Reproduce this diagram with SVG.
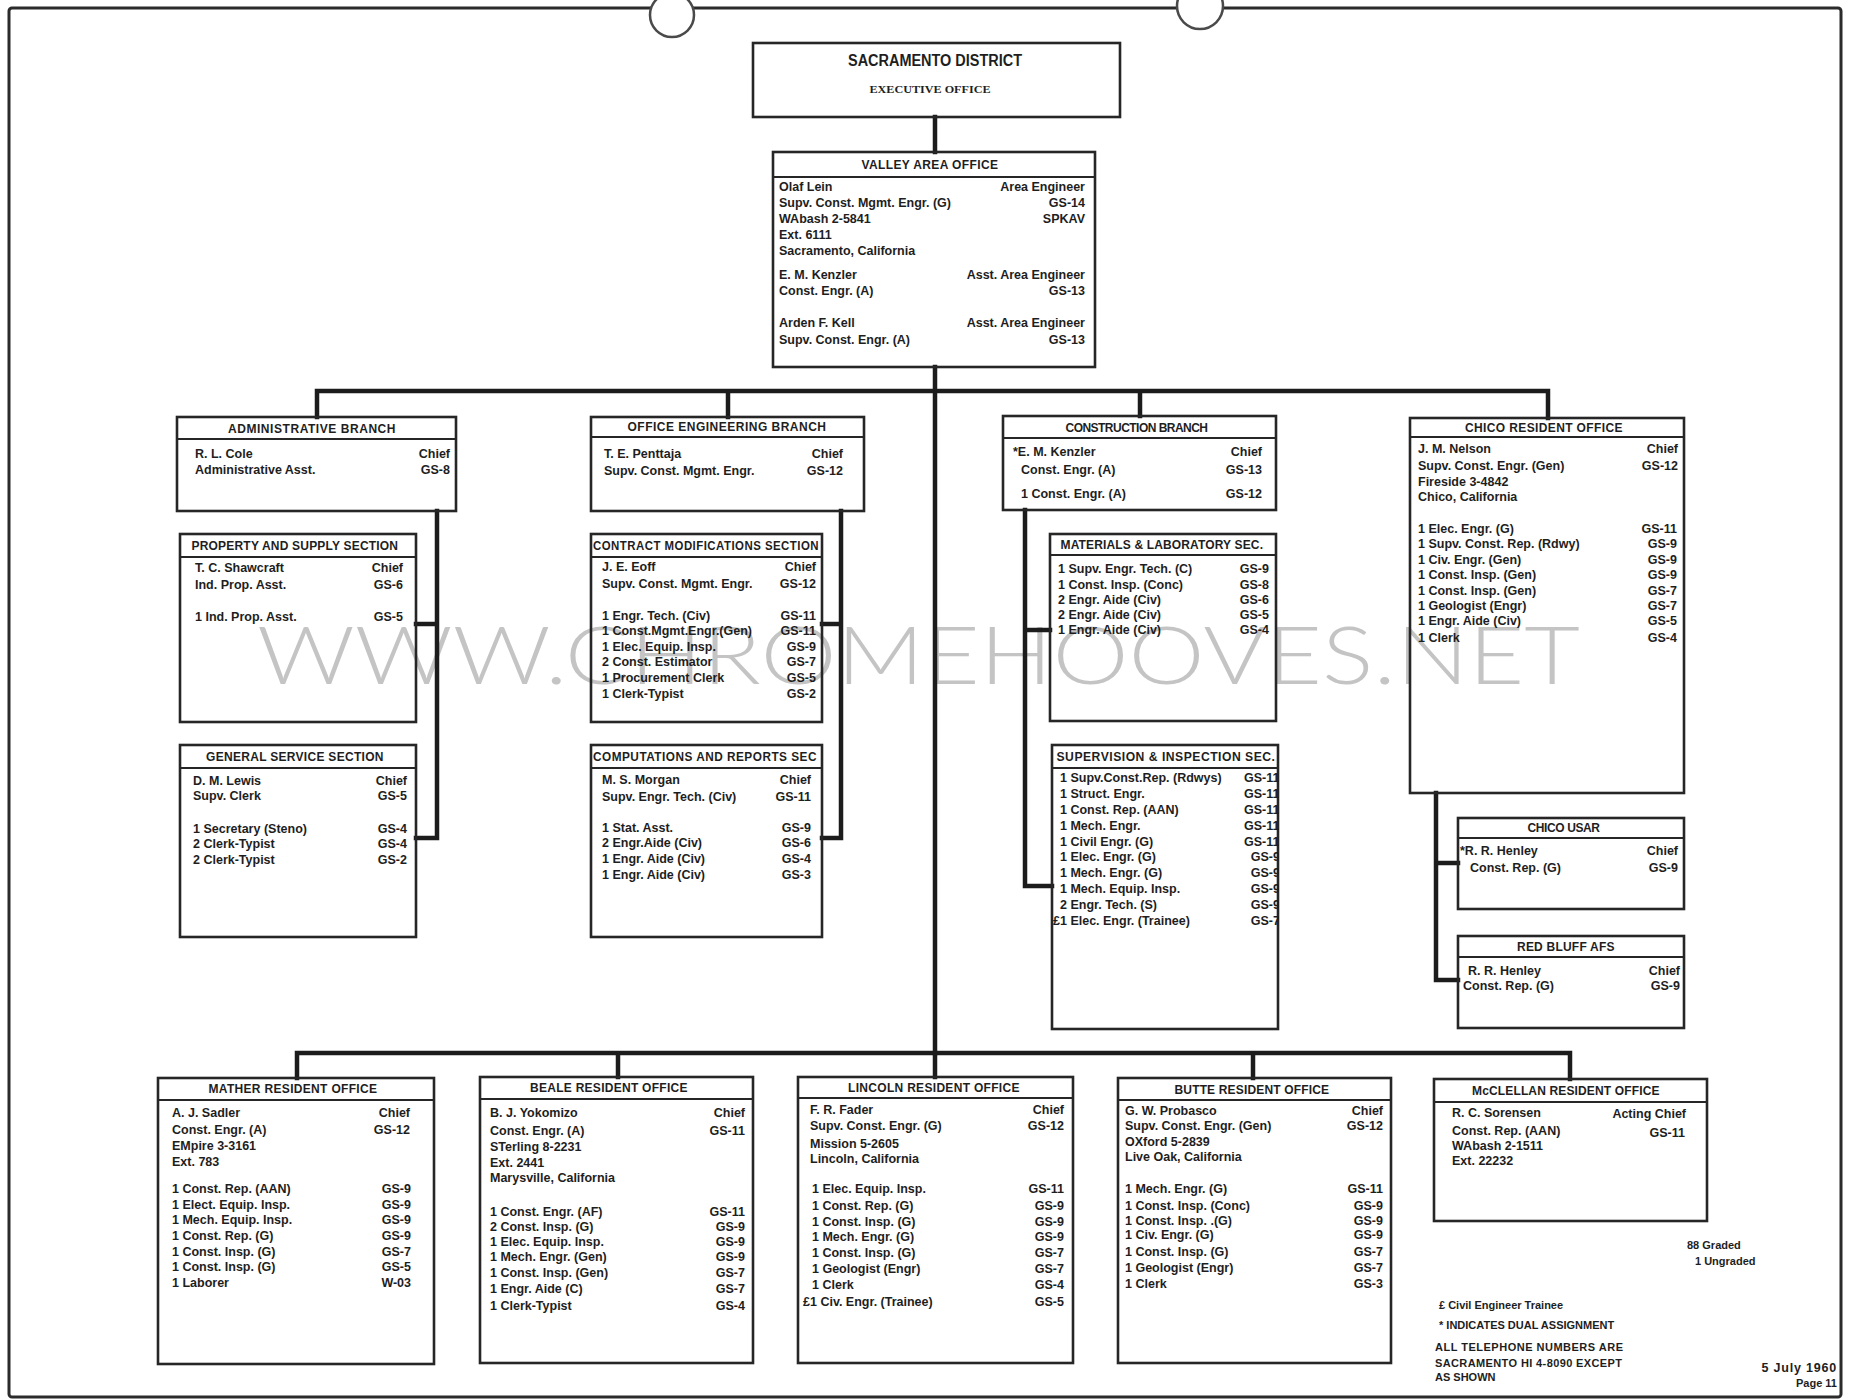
<svg xmlns="http://www.w3.org/2000/svg" width="1849" height="1400" viewBox="0 0 1849 1400">
<defs>
<clipPath id="supclip"><rect x="1052" y="745" width="227" height="284"/></clipPath>
</defs>
<style>
.frame{fill:none;stroke:#2b2b2b;stroke-width:3}
.box{fill:none;stroke:#262626;stroke-width:2.6}
.dv{stroke:#262626;stroke-width:2}
.conn{fill:none;stroke:#1c1c1c;stroke-width:4.5;stroke-linecap:square}
.hole{fill:#fff;stroke:#4a4a4a;stroke-width:2.5}
text{font-family:"Liberation Sans",Arial,sans-serif;font-weight:bold;fill:#1e1e1e;font-size:12.5px}
.h{text-anchor:middle;letter-spacing:0.5px;font-size:12px}
.r{text-anchor:end}
.n{font-size:11px}
.d{font-size:12.5px;letter-spacing:0.8px}
.wm{font-family:Lato,"Liberation Sans",sans-serif;font-weight:300;font-size:80px;fill:#c4c4c4}
</style>
<rect x="0" y="0" width="1849" height="1400" fill="#fff"/>
<text class="wm" x="257" y="684" textLength="1323" lengthAdjust="spacingAndGlyphs">WWW.CHROMEHOOVES.NET</text>
<rect class="frame" x="9" y="8" width="1832" height="1389" rx="3"/>
<circle class="hole" cx="672" cy="15" r="22"/>
<circle class="hole" cx="1200" cy="6" r="23"/>

<g id="connectors">
<path class="conn" d="M935 117 V152 M935 367 V1053"/>
<path class="conn" d="M317 391 H1548 M317 391 V417 M728 391 V417 M1140 391 V416 M1548 391 V418"/>
<path class="conn" d="M297 1053 H1570 M297 1053 V1078 M618 1053 V1077 M935 1053 V1077 M1253 1053 V1078 M1570 1053 V1079"/>
<path class="conn" d="M437 511 V838 M416 624 H437 M416 838 H437"/>
<path class="conn" d="M841 511 V838 M822 624 H841 M822 838 H841"/>
<path class="conn" d="M1025 510 V886 M1025 630 H1050 M1025 886 H1052"/>
<path class="conn" d="M1436 793 V980 M1436 863 H1458 M1436 980 H1458"/>
</g>

<g id="executive-office">
<rect class="box" x="753" y="43" width="367" height="74"/>
<text x="935" y="66" text-anchor="middle" style="font-size:16px" textLength="174" lengthAdjust="spacingAndGlyphs">SACRAMENTO DISTRICT</text>
<text x="930" y="93" text-anchor="middle" style="font-family:'Liberation Serif',serif;font-size:11px" textLength="121" lengthAdjust="spacingAndGlyphs">EXECUTIVE OFFICE</text>
</g>

<g id="valley-area-office">
<rect class="box" x="773" y="152" width="322" height="215"/>
<line class="dv" x1="773" y1="177" x2="1095" y2="177"/>
<text class="h" x="930" y="169" textLength="137">VALLEY AREA OFFICE</text>
<text x="779" y="191">Olaf Lein</text>
<text x="779" y="207">Supv. Const. Mgmt. Engr. (G)</text>
<text x="779" y="223">WAbash 2-5841</text>
<text x="779" y="239">Ext. 6111</text>
<text x="779" y="255">Sacramento, California</text>
<text x="779" y="279">E. M. Kenzler</text>
<text x="779" y="295">Const. Engr. (A)</text>
<text x="779" y="327">Arden F. Kell</text>
<text x="779" y="344">Supv. Const. Engr. (A)</text>
<text class="r" x="1085" y="191">Area Engineer</text>
<text class="r" x="1085" y="207">GS-14</text>
<text class="r" x="1085" y="223">SPKAV</text>
<text class="r" x="1085" y="279">Asst. Area Engineer</text>
<text class="r" x="1085" y="295">GS-13</text>
<text class="r" x="1085" y="327">Asst. Area Engineer</text>
<text class="r" x="1085" y="344">GS-13</text>
</g>

<g id="administrative-branch">
<rect class="box" x="177" y="417" width="279" height="94"/>
<line class="dv" x1="177" y1="439" x2="456" y2="439"/>
<text class="h" x="312" y="433" textLength="168">ADMINISTRATIVE BRANCH</text>
<text x="195" y="458">R. L. Cole</text>
<text x="195" y="474">Administrative Asst.</text>
<text class="r" x="450" y="458">Chief</text>
<text class="r" x="450" y="474">GS-8</text>
</g>

<g id="property-supply-section">
<rect class="box" x="180" y="534" width="236" height="188"/>
<line class="dv" x1="180" y1="557" x2="416" y2="557"/>
<text class="h" x="295" y="550" textLength="207">PROPERTY AND SUPPLY SECTION</text>
<text x="195" y="572">T. C. Shawcraft</text>
<text x="195" y="589">Ind. Prop. Asst.</text>
<text x="195" y="621">1 Ind. Prop. Asst.</text>
<text class="r" x="403" y="572">Chief</text>
<text class="r" x="403" y="589">GS-6</text>
<text class="r" x="403" y="621">GS-5</text>
</g>

<g id="general-service-section">
<rect class="box" x="180" y="745" width="236" height="192"/>
<line class="dv" x1="180" y1="768" x2="416" y2="768"/>
<text class="h" x="295" y="761" textLength="178">GENERAL SERVICE SECTION</text>
<text x="193" y="785">D. M. Lewis</text>
<text x="193" y="800">Supv. Clerk</text>
<text x="193" y="833">1 Secretary (Steno)</text>
<text x="193" y="848">2 Clerk-Typist</text>
<text x="193" y="864">2 Clerk-Typist</text>
<text class="r" x="407" y="785">Chief</text>
<text class="r" x="407" y="800">GS-5</text>
<text class="r" x="407" y="833">GS-4</text>
<text class="r" x="407" y="848">GS-4</text>
<text class="r" x="407" y="864">GS-2</text>
</g>

<g id="office-engineering-branch">
<rect class="box" x="591" y="417" width="273" height="94"/>
<line class="dv" x1="591" y1="437" x2="864" y2="437"/>
<text class="h" x="727" y="431" textLength="199">OFFICE ENGINEERING BRANCH</text>
<text x="604" y="458">T. E. Penttaja</text>
<text x="604" y="475">Supv. Const. Mgmt. Engr.</text>
<text class="r" x="843" y="458">Chief</text>
<text class="r" x="843" y="475">GS-12</text>
</g>

<g id="contract-modifications-section">
<rect class="box" x="591" y="534" width="231" height="188"/>
<line class="dv" x1="591" y1="557" x2="822" y2="557"/>
<text class="h" x="706" y="550" textLength="226" lengthAdjust="spacingAndGlyphs">CONTRACT MODIFICATIONS SECTION</text>
<text x="602" y="571">J. E. Eoff</text>
<text x="602" y="588">Supv. Const. Mgmt. Engr.</text>
<text x="602" y="620">1 Engr. Tech. (Civ)</text>
<text x="602" y="635">1 Const.Mgmt.Engr.(Gen)</text>
<text x="602" y="651">1 Elec. Equip. Insp.</text>
<text x="602" y="666">2 Const. Estimator</text>
<text x="602" y="682">1 Procurement Clerk</text>
<text x="602" y="698">1 Clerk-Typist</text>
<text class="r" x="816" y="571">Chief</text>
<text class="r" x="816" y="588">GS-12</text>
<text class="r" x="816" y="620">GS-11</text>
<text class="r" x="816" y="635">GS-11</text>
<text class="r" x="816" y="651">GS-9</text>
<text class="r" x="816" y="666">GS-7</text>
<text class="r" x="816" y="682">GS-5</text>
<text class="r" x="816" y="698">GS-2</text>
</g>

<g id="computations-reports-section">
<rect class="box" x="591" y="745" width="231" height="192"/>
<line class="dv" x1="591" y1="768" x2="822" y2="768"/>
<text class="h" x="705" y="761" textLength="224" lengthAdjust="spacingAndGlyphs">COMPUTATIONS AND REPORTS SEC</text>
<text x="602" y="784">M. S. Morgan</text>
<text x="602" y="801">Supv. Engr. Tech. (Civ)</text>
<text x="602" y="832">1 Stat. Asst.</text>
<text x="602" y="847">2 Engr.Aide (Civ)</text>
<text x="602" y="863">1 Engr. Aide (Civ)</text>
<text x="602" y="879">1 Engr. Aide (Civ)</text>
<text class="r" x="811" y="784">Chief</text>
<text class="r" x="811" y="801">GS-11</text>
<text class="r" x="811" y="832">GS-9</text>
<text class="r" x="811" y="847">GS-6</text>
<text class="r" x="811" y="863">GS-4</text>
<text class="r" x="811" y="879">GS-3</text>
</g>

<g id="construction-branch">
<rect class="box" x="1003" y="416" width="273" height="94"/>
<line class="dv" x1="1003" y1="438" x2="1276" y2="438"/>
<text class="h" x="1137" y="432" textLength="143">CONSTRUCTION BRANCH</text>
<text x="1013" y="456">*E. M. Kenzler</text>
<text x="1021" y="474">Const. Engr. (A)</text>
<text x="1021" y="498">1 Const. Engr. (A)</text>
<text class="r" x="1262" y="456">Chief</text>
<text class="r" x="1262" y="474">GS-13</text>
<text class="r" x="1262" y="498">GS-12</text>
</g>

<g id="materials-laboratory-section">
<rect class="box" x="1050" y="534" width="226" height="187"/>
<line class="dv" x1="1050" y1="555" x2="1276" y2="555"/>
<text class="h" x="1162" y="549" textLength="203">MATERIALS &amp; LABORATORY SEC.</text>
<text x="1058" y="573">1 Supv. Engr. Tech. (C)</text>
<text x="1058" y="589">1 Const. Insp. (Conc)</text>
<text x="1058" y="604">2 Engr. Aide (Civ)</text>
<text x="1058" y="619">2 Engr. Aide (Civ)</text>
<text x="1058" y="634">1 Engr. Aide (Civ)</text>
<text class="r" x="1269" y="573">GS-9</text>
<text class="r" x="1269" y="589">GS-8</text>
<text class="r" x="1269" y="604">GS-6</text>
<text class="r" x="1269" y="619">GS-5</text>
<text class="r" x="1269" y="634">GS-4</text>
</g>

<g id="supervision-inspection-section">
<rect class="box" x="1052" y="745" width="226" height="284"/>
<line class="dv" x1="1052" y1="768" x2="1278" y2="768"/>
<text class="h" x="1166" y="761" textLength="219" lengthAdjust="spacingAndGlyphs">SUPERVISION &amp; INSPECTION SEC.</text>
<text x="1060" y="782">1 Supv.Const.Rep. (Rdwys)</text>
<text x="1060" y="798">1 Struct. Engr.</text>
<text x="1060" y="814">1 Const. Rep. (AAN)</text>
<text x="1060" y="830">1 Mech. Engr.</text>
<text x="1060" y="846">1 Civil Engr. (G)</text>
<text x="1060" y="861">1 Elec. Engr. (G)</text>
<text x="1060" y="877">1 Mech. Engr. (G)</text>
<text x="1060" y="893">1 Mech. Equip. Insp.</text>
<text x="1060" y="909">2 Engr. Tech. (S)</text>
<text x="1053" y="925">£1 Elec. Engr. (Trainee)</text>
<g clip-path="url(#supclip)">
<text x="1244" y="782">GS-11</text>
<text x="1244" y="798">GS-11</text>
<text x="1244" y="814">GS-11</text>
<text x="1244" y="830">GS-11</text>
<text x="1244" y="846">GS-11</text>
<text class="r" x="1280" y="861">GS-9</text>
<text class="r" x="1280" y="877">GS-9</text>
<text class="r" x="1280" y="893">GS-9</text>
<text class="r" x="1280" y="909">GS-9</text>
<text class="r" x="1280" y="925">GS-7</text>
</g>
</g>

<g id="chico-resident-office">
<rect class="box" x="1410" y="418" width="274" height="375"/>
<line class="dv" x1="1410" y1="437" x2="1684" y2="437"/>
<text class="h" x="1544" y="432" textLength="158">CHICO RESIDENT OFFICE</text>
<text x="1418" y="453">J. M. Nelson</text>
<text x="1418" y="470">Supv. Const. Engr. (Gen)</text>
<text x="1418" y="486">Fireside 3-4842</text>
<text x="1418" y="501">Chico, California</text>
<text x="1418" y="533">1 Elec. Engr. (G)</text>
<text x="1418" y="548">1 Supv. Const. Rep. (Rdwy)</text>
<text x="1418" y="564">1 Civ. Engr. (Gen)</text>
<text x="1418" y="579">1 Const. Insp. (Gen)</text>
<text x="1418" y="595">1 Const. Insp. (Gen)</text>
<text x="1418" y="610">1 Geologist (Engr)</text>
<text x="1418" y="625">1 Engr. Aide (Civ)</text>
<text x="1418" y="642">1 Clerk</text>
<text class="r" x="1678" y="453">Chief</text>
<text class="r" x="1678" y="470">GS-12</text>
<text class="r" x="1677" y="533">GS-11</text>
<text class="r" x="1677" y="548">GS-9</text>
<text class="r" x="1677" y="564">GS-9</text>
<text class="r" x="1677" y="579">GS-9</text>
<text class="r" x="1677" y="595">GS-7</text>
<text class="r" x="1677" y="610">GS-7</text>
<text class="r" x="1677" y="625">GS-5</text>
<text class="r" x="1677" y="642">GS-4</text>
</g>

<g id="chico-usar">
<rect class="box" x="1458" y="818" width="226" height="91"/>
<line class="dv" x1="1458" y1="838" x2="1684" y2="838"/>
<text class="h" x="1564" y="832" textLength="73">CHICO USAR</text>
<text x="1460" y="855">*R. R. Henley</text>
<text x="1470" y="872">Const. Rep. (G)</text>
<text class="r" x="1678" y="855">Chief</text>
<text class="r" x="1678" y="872">GS-9</text>
</g>

<g id="red-bluff-afs">
<rect class="box" x="1458" y="936" width="226" height="92"/>
<line class="dv" x1="1458" y1="957" x2="1684" y2="957"/>
<text class="h" x="1566" y="951" textLength="98">RED BLUFF AFS</text>
<text x="1468" y="975">R. R. Henley</text>
<text x="1463" y="990">Const. Rep. (G)</text>
<text class="r" x="1680" y="975">Chief</text>
<text class="r" x="1680" y="990">GS-9</text>
</g>

<g id="mather-resident-office">
<rect class="box" x="158" y="1078" width="276" height="286"/>
<line class="dv" x1="158" y1="1100" x2="434" y2="1100"/>
<text class="h" x="293" y="1093" textLength="169">MATHER RESIDENT OFFICE</text>
<text x="172" y="1117">A. J. Sadler</text>
<text x="172" y="1134">Const. Engr. (A)</text>
<text x="172" y="1150">EMpire 3-3161</text>
<text x="172" y="1166">Ext. 783</text>
<text x="172" y="1193">1 Const. Rep. (AAN)</text>
<text x="172" y="1209">1 Elect. Equip. Insp.</text>
<text x="172" y="1224">1 Mech. Equip. Insp.</text>
<text x="172" y="1240">1 Const. Rep. (G)</text>
<text x="172" y="1256">1 Const. Insp. (G)</text>
<text x="172" y="1271">1 Const. Insp. (G)</text>
<text x="172" y="1287">1 Laborer</text>
<text class="r" x="410" y="1117">Chief</text>
<text class="r" x="410" y="1134">GS-12</text>
<text class="r" x="411" y="1193">GS-9</text>
<text class="r" x="411" y="1209">GS-9</text>
<text class="r" x="411" y="1224">GS-9</text>
<text class="r" x="411" y="1240">GS-9</text>
<text class="r" x="411" y="1256">GS-7</text>
<text class="r" x="411" y="1271">GS-5</text>
<text class="r" x="411" y="1287">W-03</text>
</g>

<g id="beale-resident-office">
<rect class="box" x="480" y="1077" width="273" height="286"/>
<line class="dv" x1="480" y1="1099" x2="753" y2="1099"/>
<text class="h" x="609" y="1092" textLength="158">BEALE RESIDENT OFFICE</text>
<text x="490" y="1117">B. J. Yokomizo</text>
<text x="490" y="1135">Const. Engr. (A)</text>
<text x="490" y="1151">STerling 8-2231</text>
<text x="490" y="1167">Ext. 2441</text>
<text x="490" y="1182">Marysville, California</text>
<text x="490" y="1216">1 Const. Engr. (AF)</text>
<text x="490" y="1231">2 Const. Insp. (G)</text>
<text x="490" y="1246">1 Elec. Equip. Insp.</text>
<text x="490" y="1261">1 Mech. Engr. (Gen)</text>
<text x="490" y="1277">1 Const. Insp. (Gen)</text>
<text x="490" y="1293">1 Engr. Aide (C)</text>
<text x="490" y="1310">1 Clerk-Typist</text>
<text class="r" x="745" y="1117">Chief</text>
<text class="r" x="745" y="1135">GS-11</text>
<text class="r" x="745" y="1216">GS-11</text>
<text class="r" x="745" y="1231">GS-9</text>
<text class="r" x="745" y="1246">GS-9</text>
<text class="r" x="745" y="1261">GS-9</text>
<text class="r" x="745" y="1277">GS-7</text>
<text class="r" x="745" y="1293">GS-7</text>
<text class="r" x="745" y="1310">GS-4</text>
</g>

<g id="lincoln-resident-office">
<rect class="box" x="798" y="1077" width="275" height="286"/>
<line class="dv" x1="798" y1="1098" x2="1073" y2="1098"/>
<text class="h" x="934" y="1092" textLength="172">LINCOLN RESIDENT OFFICE</text>
<text x="810" y="1114">F. R. Fader</text>
<text x="810" y="1130">Supv. Const. Engr. (G)</text>
<text x="810" y="1148">Mission 5-2605</text>
<text x="810" y="1163">Lincoln, California</text>
<text x="812" y="1193">1 Elec. Equip. Insp.</text>
<text x="812" y="1210">1 Const. Rep. (G)</text>
<text x="812" y="1226">1 Const. Insp. (G)</text>
<text x="812" y="1241">1 Mech. Engr. (G)</text>
<text x="812" y="1257">1 Const. Insp. (G)</text>
<text x="812" y="1273">1 Geologist (Engr)</text>
<text x="812" y="1289">1 Clerk</text>
<text x="803" y="1306">£1 Civ. Engr. (Trainee)</text>
<text class="r" x="1064" y="1114">Chief</text>
<text class="r" x="1064" y="1130">GS-12</text>
<text class="r" x="1064" y="1193">GS-11</text>
<text class="r" x="1064" y="1210">GS-9</text>
<text class="r" x="1064" y="1226">GS-9</text>
<text class="r" x="1064" y="1241">GS-9</text>
<text class="r" x="1064" y="1257">GS-7</text>
<text class="r" x="1064" y="1273">GS-7</text>
<text class="r" x="1064" y="1289">GS-4</text>
<text class="r" x="1064" y="1306">GS-5</text>
</g>

<g id="butte-resident-office">
<rect class="box" x="1118" y="1078" width="273" height="285"/>
<line class="dv" x1="1118" y1="1100" x2="1391" y2="1100"/>
<text class="h" x="1252" y="1094" textLength="155">BUTTE RESIDENT OFFICE</text>
<text x="1125" y="1115">G. W. Probasco</text>
<text x="1125" y="1130">Supv. Const. Engr. (Gen)</text>
<text x="1125" y="1146">OXford 5-2839</text>
<text x="1125" y="1161">Live Oak, California</text>
<text x="1125" y="1193">1 Mech. Engr. (G)</text>
<text x="1125" y="1210">1 Const. Insp. (Conc)</text>
<text x="1125" y="1225">1 Const. Insp. .(G)</text>
<text x="1125" y="1239">1 Civ. Engr. (G)</text>
<text x="1125" y="1256">1 Const. Insp. (G)</text>
<text x="1125" y="1272">1 Geologist (Engr)</text>
<text x="1125" y="1288">1 Clerk</text>
<text class="r" x="1383" y="1115">Chief</text>
<text class="r" x="1383" y="1130">GS-12</text>
<text class="r" x="1383" y="1193">GS-11</text>
<text class="r" x="1383" y="1210">GS-9</text>
<text class="r" x="1383" y="1225">GS-9</text>
<text class="r" x="1383" y="1239">GS-9</text>
<text class="r" x="1383" y="1256">GS-7</text>
<text class="r" x="1383" y="1272">GS-7</text>
<text class="r" x="1383" y="1288">GS-3</text>
</g>

<g id="mcclellan-resident-office">
<rect class="box" x="1434" y="1079" width="273" height="142"/>
<line class="dv" x1="1434" y1="1102" x2="1707" y2="1102"/>
<text class="h" x="1566" y="1095" textLength="188">McCLELLAN RESIDENT OFFICE</text>
<text x="1452" y="1117">R. C. Sorensen</text>
<text x="1452" y="1135">Const. Rep. (AAN)</text>
<text x="1452" y="1150">WAbash 2-1511</text>
<text x="1452" y="1165">Ext. 22232</text>
<text class="r" x="1686" y="1118">Acting Chief</text>
<text class="r" x="1685" y="1137">GS-11</text>
</g>

<g id="notes">
<text class="n" x="1687" y="1249">88 Graded</text>
<text class="n" x="1695" y="1265">1 Ungraded</text>
<text class="n" x="1439" y="1309">£ Civil Engineer Trainee</text>
<text class="n" x="1439" y="1329">* INDICATES DUAL ASSIGNMENT</text>
<text class="n" x="1435" y="1351" textLength="188">ALL TELEPHONE NUMBERS ARE</text>
<text class="n" x="1435" y="1367" textLength="187">SACRAMENTO HI 4-8090 EXCEPT</text>
<text class="n" x="1435" y="1381">AS SHOWN</text>
<text class="d r" x="1837" y="1372">5 July 1960</text>
<text class="n r" x="1837" y="1387">Page 11</text>
</g>
</svg>
